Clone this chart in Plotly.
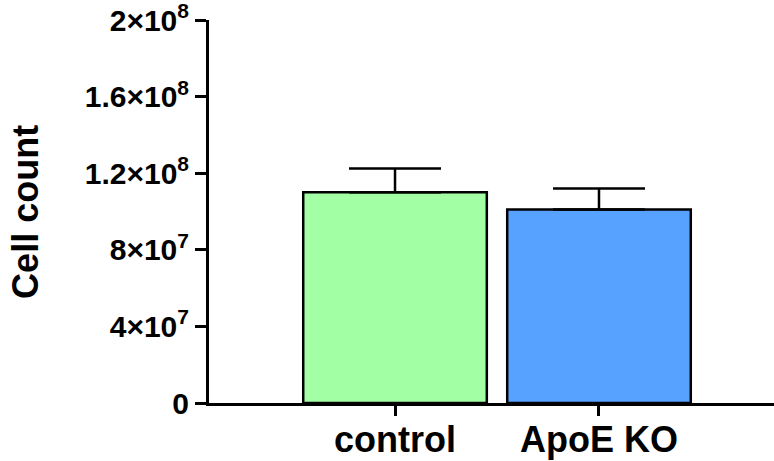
import plotly.graph_objects as go

# Group means and upper SEM
groups = ["control", "ApoE KO"]
means = [1.1e8, 1.01e8]
errors = [1.25e7, 1.1e7]
colors = ["#A3FFA3", "#57A2FF"]

# Y-axis ticks written in scientific notation
y_tickvals = [0, 4e7, 8e7, 1.2e8, 1.6e8, 2e8]
y_ticktext = ["0", "4×10<sup>7</sup>", "8×10<sup>7</sup>", "1.2×10<sup>8</sup>",
              "1.6×10<sup>8</sup>", "2×10<sup>8</sup>"]
y_title = "Cell count"

fig = go.Figure(
    go.Bar(
        x=groups,
        y=means,
        width=0.9,
        marker=dict(color=colors, line=dict(color="black", width=2.5)),
        error_y=dict(
            type="data",
            symmetric=False,
            array=errors,
            arrayminus=[0, 0],
            color="black",
            thickness=2.5,
            width=46,
        ),
    )
)

fig.update_layout(
    width=774,
    height=461,
    margin=dict(l=209, r=0, t=20, b=58, autoexpand=False),
    plot_bgcolor="white",
    paper_bgcolor="white",
    showlegend=False,
    font=dict(family="Arial, Liberation Sans, sans-serif", color="black"),
)

fig.update_xaxes(
    range=[-0.912, 1.858],
    automargin=False,
    showline=True,
    linecolor="black",
    linewidth=3,
    ticks="outside",
    ticklen=10,
    tickwidth=3,
    tickcolor="black",
    tickfont=dict(size=36, weight="bold"),
    ticklabelstandoff=-7,
    showgrid=False,
    zeroline=False,
)

fig.update_yaxes(
    range=[0, 2e8],
    automargin=False,
    tickvals=y_tickvals,
    ticktext=y_ticktext,
    ticklabeloverflow="allow",
    showline=True,
    linecolor="black",
    linewidth=3,
    ticks="outside",
    ticklen=11,
    tickwidth=3,
    tickcolor="black",
    tickfont=dict(size=30, weight="bold"),
    showgrid=False,
    zeroline=False,
)

# Rotated y-axis title placed in the left margin
fig.add_annotation(
    text=y_title,
    xref="paper",
    yref="paper",
    x=-0.325,
    y=0.5,
    xanchor="center",
    yanchor="middle",
    textangle=-90,
    showarrow=False,
    font=dict(size=36, weight="bold", color="black"),
)

fig.write_html("out.html")
